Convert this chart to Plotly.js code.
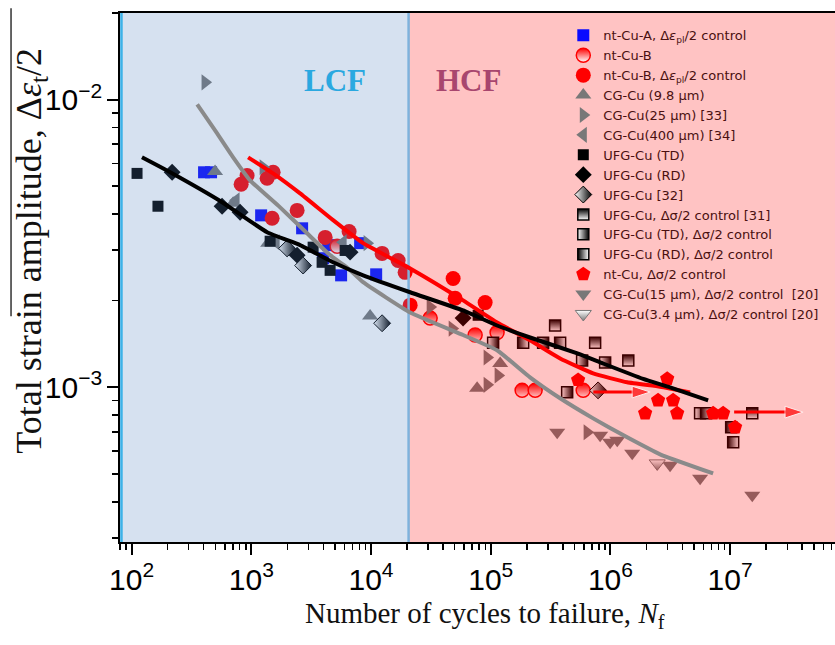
<!DOCTYPE html>
<html><head><meta charset="utf-8">
<script src="https://cdn.plot.ly/plotly-3.0.1.min.js"></script>
<style>html,body{margin:0;padding:0;background:#fff;overflow:hidden}#chart{width:835px;height:645px}</style>
</head><body><div id="chart"></div>
<script>
// ---------------- data (N cycles, strain amplitude) ----------------
const ntA_N = [403, 461, 1208, 2657, 4383, 3982, 5625, 8110, 11040];
const ntA_S = [5.59e-3, 5.59e-3, 3.96e-3, 3.57e-3, 3.12e-3, 2.81e-3, 2.45e-3, 3.17e-3, 2.47e-3];

const ntB_N = [5210, 31190, 74100, 113000, 182900, 235000, 592000];
const ntB_S = [3.09e-3, 1.74e-3, 1.52e-3, 1.55e-3, 9.76e-4, 9.76e-4, 9.76e-4];

const ntBc_N = [822, 922, 1355, 1521, 1492, 2414, 4140, 6560, 12380, 16840, 19270, 21220, 48530, 50440, 89800];
const ntBc_S = [5.08e-3, 5.45e-3, 5.33e-3, 5.59e-3, 3.87e-3, 4.12e-3, 3.32e-3, 3.48e-3, 2.92e-3, 2.76e-3, 2.51e-3, 1.93e-3, 2.39e-3, 2.04e-3, 1.97e-3];

const cg98_N = [498, 705, 1381, 9825, 119900, 76950];
const cg98_S = [5.63e-3, 4.36e-3, 3.17e-3, 1.77e-3, 1.21e-3, 9.93e-4];

const cg25_N = [411, 1255, 9274, 31190, 47630, 93300, 115300, 93300, 639000];
const cg25_S = [1.148e-2, 5.82e-3, 3.17e-3, 1.90e-3, 1.60e-3, 1.27e-3, 1.10e-3, 1.02e-3, 6.98e-4];

const cg400_N = [746, 1611, 5846];
const cg400_S = [4.47e-3, 3.19e-3, 3.19e-3];

const ufgTD_N = [111, 166, 1436, 3283, 3902, 4553, 6077, 78500];
const ufgTD_S = [5.54e-3, 4.26e-3, 3.22e-3, 3.07e-3, 2.72e-3, 2.55e-3, 2.99e-3, 1.78e-3];

const ufgRD_N = [218, 570, 806, 2414, 6686, 58780];
const ufgRD_S = [5.59e-3, 4.26e-3, 4.06e-3, 2.88e-3, 2.95e-3, 1.74e-3];

const ufg32_N = [1991, 2709, 12380, 789000];
const ufg32_S = [3.04e-3, 2.65e-3, 1.67e-3, 9.76e-4];

const ufg31_N = [345000, 745000, 1.41e6, 1.53e7];
const ufg31_S = [1.64e-3, 1.43e-3, 1.24e-3, 8.12e-4];

const ufgTDs_N = [104700, 274000, 435000, 580000, 903000, 5.61e6];
const ufgTDs_S = [1.43e-3, 1.43e-3, 9.61e-4, 1.24e-3, 1.22e-3, 8.12e-4];

const ufgRDs_N = [186600, 380000, 6.30e6, 1.02e7, 1.06e7];
const ufgRDs_S = [1.43e-3, 1.43e-3, 8.12e-4, 7.26e-4, 6.44e-4];

const ntS_N = [537000, 2.98e6, 2.50e6, 3.34e6, 1.95e6, 3.61e6, 7.21e6, 8.74e6, 1.10e7];
const ntS_S = [1.06e-3, 1.07e-3, 9.01e-4, 9.01e-4, 8.12e-4, 8.12e-4, 8.12e-4, 8.12e-4, 7.26e-4];

const cg15_N = [359000, 820000, 994000, 1.14e6, 1.52e6, 3.15e6, 5.61e6, 1.53e7];
const cg15_S = [6.98e-4, 6.81e-4, 6.44e-4, 6.55e-4, 5.90e-4, 5.36e-4, 4.83e-4, 4.22e-4];

const cg34_N = [2.46e6];
const cg34_S = [5.44e-4];

// fitted trend curves
const fitBlack_N = [122, 210, 570, 1355, 2556, 4823, 8590, 21220, 58780, 113000, 213000, 537000, 869000, 1.876e6, 3.15e6, 6.55e6];
const fitBlack_S = [6.30e-3, 5.59e-3, 4.40e-3, 3.46e-3, 3.12e-3, 2.72e-3, 2.45e-3, 2.14e-3, 1.85e-3, 1.64e-3, 1.49e-3, 1.31e-3, 1.21e-3, 1.07e-3, 1.00e-3, 9.01e-4];
const fitRed_N = [940, 1521, 2556, 4823, 8590, 21220, 58780, 113000, 213000, 380000, 717000, 1.38e6, 2.60e6, 4.63e6];
const fitRed_S = [6.30e-3, 5.54e-3, 4.72e-3, 3.81e-3, 3.17e-3, 2.59e-3, 2.006e-3, 1.68e-3, 1.457e-3, 1.26e-3, 1.118e-3, 1.041e-3, 1.005e-3, 9.6e-4];
const fitGrey_N = [353, 498, 705, 977, 1740, 2925, 4553, 6310, 8590, 21220, 58780, 113000, 213000, 380000, 717000, 1.38e6, 2.60e6, 7.21e6];
const fitGrey_S = [9.63e-3, 7.82e-3, 6.30e-3, 5.24e-3, 4.22e-3, 3.43e-3, 2.88e-3, 2.61e-3, 2.32e-3, 1.82e-3, 1.52e-3, 1.345e-3, 1.083e-3, 9.16e-4, 7.80e-4, 6.70e-4, 5.85e-4, 5.02e-4];

// run-out arrows
const runout1_N = [7.2e5, 2.15e6];
const runout1_S = [9.63e-4, 9.63e-4];
const runout2_N = [1.08e7, 4.07e7];
const runout2_S = [8.2e-4, 8.2e-4];

// region boundary (LCF / HCF)
const boundaryN = 20600;

// ---------------- styling ----------------
const GREY = '#787878';
function pts(name, xs, ys, marker) {
  return {type: 'scatter', mode: 'markers', name: name, x: xs, y: ys, xaxis: 'x', yaxis: 'y',
          marker: Object.assign({line: {width: 0}}, marker), hoverinfo: 'skip'};
}
const traces = [
  pts('nt-Cu-A, Δ<i>ε</i><sub>pl</sub>/2 control', ntA_N, ntA_S, {symbol: 'square', size: 12, color: '#0a0aff'}),
  pts('nt-Cu-B', ntB_N, ntB_S, {symbol: 'circle', size: 14, color: '#ff0000', gradient: {type: 'vertical', color: '#ffffff'}, line: {color: '#ff0000', width: 1.5}}),
  pts('nt-Cu-B, Δ<i>ε</i><sub>pl</sub>/2 control', ntBc_N, ntBc_S, {symbol: 'circle', size: 15, color: '#ff0000'}),
  pts('CG-Cu (9.8 μm)', cg98_N, cg98_S, {symbol: 'triangle-up', size: 14, color: GREY}),
  pts('CG-Cu(25 μm) [33]', cg25_N, cg25_S, {symbol: 'triangle-right', size: 14, color: GREY}),
  pts('CG-Cu(400 μm) [34]', cg400_N, cg400_S, {symbol: 'triangle-left', size: 14, color: GREY}),
  pts('UFG-Cu (TD)', ufgTD_N, ufgTD_S, {symbol: 'square', size: 11, color: '#000000'}),
  pts('UFG-Cu (RD)', ufgRD_N, ufgRD_S, {symbol: 'diamond', size: 13, color: '#000000'}),
  pts('UFG-Cu [32]', ufg32_N, ufg32_S, {symbol: 'diamond', size: 13, color: '#ffffff', gradient: {type: 'horizontal', color: '#000000'}, line: {color: '#000000', width: 1}}),
  pts('UFG-Cu, Δσ/2 control [31]', ufg31_N, ufg31_S, {symbol: 'square', size: 11, color: '#000000', gradient: {type: 'vertical', color: '#ffffff'}, line: {color: '#000000', width: 1.5}}),
  pts('UFG-Cu (TD), Δσ/2 control', ufgTDs_N, ufgTDs_S, {symbol: 'square', size: 11, color: '#ffffff', gradient: {type: 'horizontal', color: '#000000'}, line: {color: '#000000', width: 1.5}}),
  pts('UFG-Cu (RD), Δσ/2 control', ufgRDs_N, ufgRDs_S, {symbol: 'square', size: 11, color: '#000000', gradient: {type: 'horizontal', color: '#ffffff'}, line: {color: '#000000', width: 1.5}}),
  pts('nt-Cu, Δσ/2 control', ntS_N, ntS_S, {symbol: 'pentagon', size: 15, color: '#ff0000'}),
  pts('CG-Cu(15 μm), Δσ/2 control  [20]', cg15_N, cg15_S, {symbol: 'triangle-down', size: 14, color: GREY}),
  pts('CG-Cu(3.4 μm), Δσ/2 control [20]', cg34_N, cg34_S, {symbol: 'triangle-down', size: 14, color: '#ffffff', gradient: {type: 'vertical', color: GREY}, line: {color: GREY, width: 1}})
];
function fit(xs, ys, color) {
  return {type: 'scatter', mode: 'lines', x: xs, y: ys, xaxis: 'x2', yaxis: 'y2', showlegend: false,
          line: {color: color, width: 4, shape: 'spline', smoothing: 0.4}, hoverinfo: 'skip'};
}
function arrow(xs, ys) {
  return {type: 'scatter', mode: 'lines+markers', x: xs, y: ys, xaxis: 'x2', yaxis: 'y2', showlegend: false,
          line: {color: '#ff0000', width: 3},
          marker: {symbol: 'arrow', angleref: 'previous', size: [0, 19], color: '#ff0000'}, hoverinfo: 'skip'};
}
traces.push(fit(fitGrey_N, fitGrey_S, '#8a8a8a'));
traces.push(fit(fitRed_N, fitRed_S, '#ff0000'));
traces.push(fit(fitBlack_N, fitBlack_S, '#000000'));
traces.push(arrow(runout1_N, runout1_S));
traces.push(arrow(runout2_N, runout2_S));

const XR = [1.903, 7.876];
const YR = [-3.5376, -1.699];
const tickFont = {family: 'Liberation Sans, Arial, sans-serif', size: 24, color: '#000'};
const serif = 'Liberation Serif, Times New Roman, serif';

const layout = {
  width: 835, height: 645,
  margin: {l: 120, r: 0, t: 13, b: 103, autoexpand: false},
  paper_bgcolor: '#ffffff', plot_bgcolor: 'rgba(0,0,0,0)',
  showlegend: true,
  xaxis: {type: 'log', range: XR, domain: [0, 1], anchor: 'y', showgrid: false, zeroline: false,
          showline: true, linecolor: '#000', linewidth: 2, mirror: true,
          ticks: 'outside', ticklen: 11, tickwidth: 2, tickcolor: '#000', dtick: 1,
          exponentformat: 'power', showexponent: 'all', tickfont: tickFont,
          minor: {ticks: 'outside', ticklen: 6, tickwidth: 1.5, tickcolor: '#000', dtick: 'D1', showgrid: false},
          fixedrange: true},
  yaxis: {type: 'log', range: YR, domain: [0, 1], anchor: 'x', showgrid: false, zeroline: false,
          showline: true, linecolor: '#000', linewidth: 2, mirror: false,
          ticks: 'outside', ticklen: 11, tickwidth: 2, tickcolor: '#000', dtick: 1,
          exponentformat: 'power', showexponent: 'all', tickfont: tickFont,
          minor: {ticks: 'outside', ticklen: 6, tickwidth: 1.5, tickcolor: '#000', dtick: 'D1', showgrid: false},
          fixedrange: true},
  xaxis2: {type: 'log', range: XR, domain: [0, 1], anchor: 'y2', visible: false, fixedrange: true},
  yaxis2: {type: 'log', range: YR, domain: [0, 1], anchor: 'x2', visible: false, fixedrange: true},
  legend: {x: 0.62, y: 0.986, xanchor: 'left', yanchor: 'top', bgcolor: 'rgba(0,0,0,0)',
           font: {family: 'DejaVu Sans, Liberation Sans, sans-serif', size: 13, color: '#4a1010'},
           itemclick: false, itemdoubleclick: false},
  shapes: [
    {type: 'rect', xref: 'x2', yref: 'y2', x0: 80, x1: boundaryN, y0: Math.pow(10, YR[0]), y1: Math.pow(10, YR[1]),
     fillcolor: 'rgb(84,130,191)', opacity: 0.24, line: {width: 0}, layer: 'below'},
    {type: 'rect', xref: 'x2', yref: 'y2', x0: boundaryN, x1: 1e9, y0: Math.pow(10, YR[0]), y1: Math.pow(10, YR[1]),
     fillcolor: 'rgb(255,0,0)', opacity: 0.235, line: {width: 0}, layer: 'below'},
    {type: 'line', xref: 'x2', yref: 'y2', x0: 82.3, x1: 82.3, y0: Math.pow(10, YR[0]), y1: Math.pow(10, YR[1]),
     line: {color: '#3db2e8', width: 2.5}, layer: 'below'},
    {type: 'line', xref: 'x2', yref: 'y2', x0: boundaryN, x1: boundaryN, y0: Math.pow(10, YR[0]), y1: Math.pow(10, YR[1]),
     line: {color: '#7eb2dc', width: 2.5}, layer: 'below'},
    {type: 'line', xref: 'paper', yref: 'paper', x0: -0.1524, x1: -0.1524, y0: 0.4267, y1: 1.009,
     line: {color: '#333', width: 1.5}}
  ],
  annotations: [
    {xref: 'paper', yref: 'paper', x: 0.3, y: 0.873, xanchor: 'center', yanchor: 'middle', text: '<b>LCF</b>', showarrow: false,
     font: {family: serif, size: 31, color: '#2aa8e0'}},
    {xref: 'paper', yref: 'paper', x: 0.488, y: 0.873, xanchor: 'center', yanchor: 'middle', text: '<b>HCF</b>', showarrow: false,
     font: {family: serif, size: 31, color: '#a8466e'}},
    {xref: 'paper', yref: 'paper', x: 0.511, y: -0.138, text: 'Number of cycles to failure, <i>N</i><sub>f</sub>',
     showarrow: false, xanchor: 'center', yanchor: 'middle', font: {family: serif, size: 29, color: '#111'}},
    {xref: 'paper', yref: 'paper', x: -0.125, y: 0.55, text: 'Total strain amplitude, Δ<i>ε</i><sub>t</sub>/2',
     showarrow: false, textangle: -90, xanchor: 'center', yanchor: 'middle', font: {family: serif, size: 36, color: '#111'}}
  ]
};
Plotly.newPlot('chart', traces, layout, {staticPlot: true, displayModeBar: false});
</script></body></html>
